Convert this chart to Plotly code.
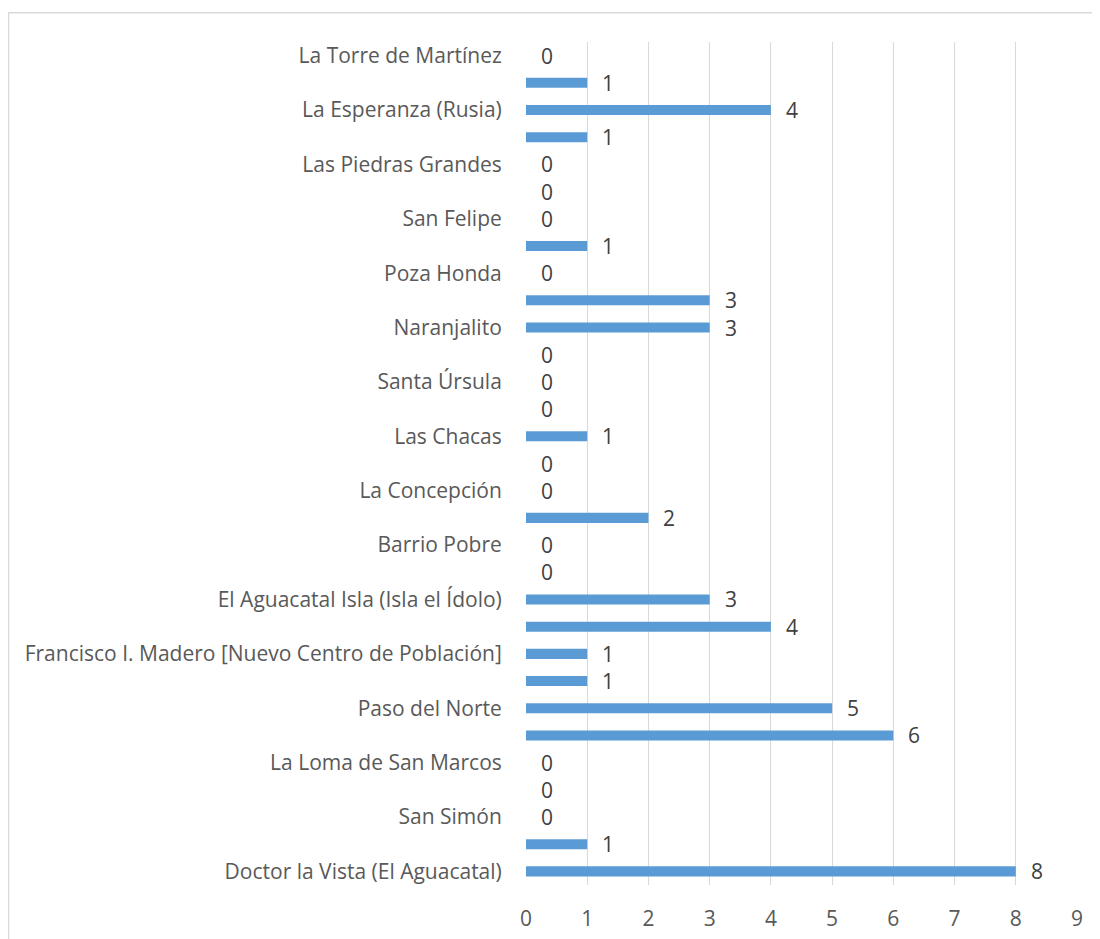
import plotly.graph_objects as go

# categories listed top to bottom as they appear; '' = row whose label is not shown
categories = [
    "La Torre de Martínez", "", "La Esperanza (Rusia)", "", "Las Piedras Grandes", "",
    "San Felipe", "", "Poza Honda", "", "Naranjalito", "", "Santa Úrsula", "",
    "Las Chacas", "", "La Concepción", "", "Barrio Pobre", "",
    "El Aguacatal Isla (Isla el Ídolo)", "", "Francisco I. Madero [Nuevo Centro de Población]", "",
    "Paso del Norte", "", "La Loma de San Marcos", "", "San Simón", "",
    "Doctor la Vista (El Aguacatal)",
]
values = [0, 1, 4, 1, 0, 0, 0, 1, 0, 3, 3, 0, 0, 0, 1, 0, 0, 2, 0, 0, 3, 4, 1, 1, 5, 6, 0, 0, 0, 1, 8]
x_ticks = list(range(0, 10))

rows = list(range(len(categories)))
tickvals = [i for i, c in enumerate(categories) if c]
ticktext = [c for c in categories if c]

FONT = "Open Sans"
TXT = "#595959"
FS = 21

W, H = 1100, 939
ML, MR, MT, MB = 518, 31, 34, 62
PW, PH = W - ML - MR, H - MT - MB

fig = go.Figure()
fig.add_trace(go.Bar(
    x=values, y=rows, orientation="h",
    marker=dict(color="#5B9BD5", line=dict(width=0)),
    hoverinfo="x",
))

for r, v in zip(rows, values):
    fig.add_annotation(x=v, y=r, text=str(v), showarrow=False,
                       xanchor="left", yanchor="middle", xshift=13,
                       font=dict(family=FONT, size=FS, color="#404040"))

left_x = -(ML - 0.5) / PW
top_y = 1 + (MT - 4.7) / PH
fig.update_layout(
    width=W, height=H,
    margin=dict(l=ML, r=MR, t=MT, b=MB),
    paper_bgcolor="white", plot_bgcolor="white",
    bargap=0.63,
    showlegend=False,
    font=dict(family=FONT, size=FS, color=TXT),
    shapes=[
        dict(type="line", xref="paper", yref="paper", x0=left_x, x1=1.2,
             y0=top_y, y1=top_y, line=dict(color="#D9D9D9", width=1.5)),
        dict(type="line", xref="paper", yref="paper", x0=left_x, x1=left_x,
             y0=top_y, y1=-0.2, line=dict(color="#D9D9D9", width=1.5)),
    ],
)
fig.update_xaxes(
    range=[0, 9], tickvals=x_ticks, ticktext=[str(t) for t in x_ticks],
    showgrid=True, gridcolor="#D9D9D9", gridwidth=1.3,
    zeroline=False, showline=False,
    ticks="outside", ticklen=15, tickcolor="rgba(0,0,0,0)",
    tickfont=dict(family=FONT, size=FS, color=TXT),
    fixedrange=True,
)
fig.update_yaxes(
    range=[len(categories) - 0.5, -0.5],
    tickvals=tickvals, ticktext=ticktext,
    showgrid=False, zeroline=False, showline=False,
    ticks="outside", ticklen=19, tickcolor="rgba(0,0,0,0)",
    tickfont=dict(family=FONT, size=FS, color=TXT),
    fixedrange=True,
)

fig.write_html("out.html")
